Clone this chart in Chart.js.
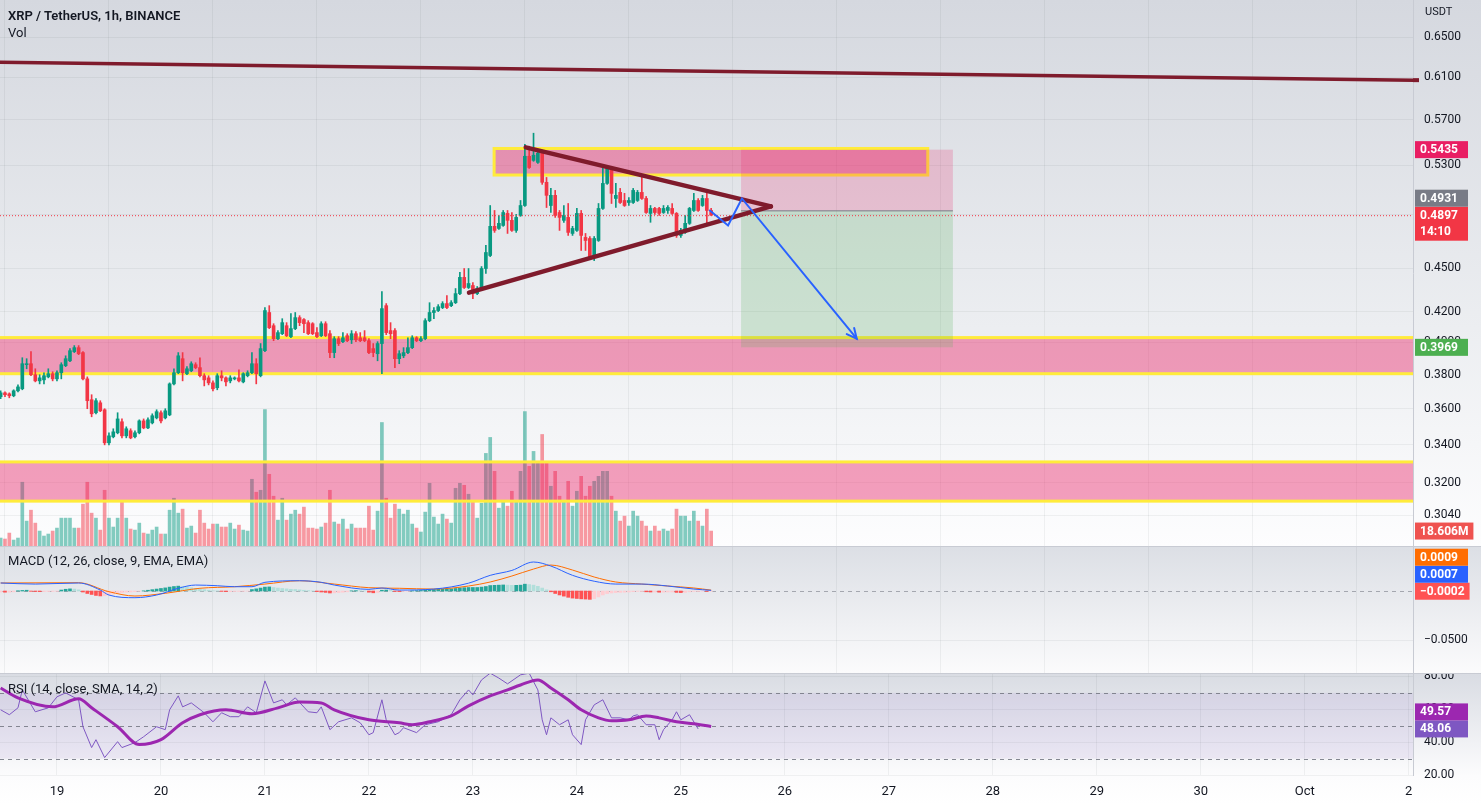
<!doctype html>
<html lang="en">
<head>
<meta charset="utf-8">
<title>XRP / TetherUS, 1h, BINANCE</title>
<script src="https://cdn.jsdelivr.net/npm/chart.js"></script>
<style>
    body { margin: 0; width: 1481px; height: 805px; overflow: hidden; background: #fff; font-family: Roboto, sans-serif; }
    .pane { position: absolute; left: 0; width: 1481px; }
    #pricePane { top: 0; height: 546px; background: linear-gradient(#d5d8df, #eceef1 60%, #fdfdfe); }
    #macdPane { top: 547px; height: 126px; background: linear-gradient(#dcdfe5, #fbfbfc); }
    #rsiPane { top: 674px; height: 131px; background: linear-gradient(#d9dce3, #fcfcfd 78%, #ffffff); }
    .sep { position: absolute; left: 0; width: 1481px; height: 1px; background: #c8cbd3; }
    .legend { position: absolute; left: 8px; font-size: 13px; color: #131722; white-space: nowrap; }
    canvas { position: absolute; left: 0; top: 0; }
</style>
</head>
<body>
<div id="pricePane" class="pane"><canvas id="priceChart" width="1481" height="546"></canvas></div>
<div class="sep" style="top:546px"></div>
<div id="macdPane" class="pane"><canvas id="macdChart" width="1481" height="126"></canvas></div>
<div class="sep" style="top:673px"></div>
<div id="rsiPane" class="pane"><canvas id="rsiChart" width="1481" height="131"></canvas></div>

<div class="legend" style="top:8px;font-weight:600">XRP / TetherUS, 1h, BINANCE</div>
<div class="legend" style="top:25px">Vol</div>
<div class="legend" style="top:5px;left:1425px;font-size:11px">USDT</div>
<div class="legend" style="top:553px">MACD (12, 26, close, 9, EMA, EMA)</div>
<div class="legend" style="top:681px">RSI (14, close, SMA, 14, 2)</div>

<script>
    // ---- data (1h candles, first candle 18 Sep 11:00) ----
    const firstHour = 11;
    const opens = [
        .3669,.3692,.3686,.3675,.3704,.3716,.3861,.3867,.3800,.3763,.3769,.3787,.3806,.3775,.3812,.3855,.3885,.3942,.3967,.3936,
        .3775,.3652,.3577,.3634,.3594,.3410,.3443,.3465,.3526,.3448,.3476,.3443,.3465,.3531,.3492,.3520,.3548,.3577,.3548,.3565,
        .3745,.3812,.3898,.3806,.3824,.3861,.3843,.3794,.3781,.3751,.3722,.3794,.3781,.3763,.3775,.3781,.3757,.3794,.3812,.3867,
        .3794,.3948,.4195,.4108,.4024,.4056,.4108,.4037,.4089,.4161,.4148,.4128,.4121,.4063,.4043,.4121,.4056,.3936,.4024,.4005,
        .4043,.4017,.4056,.4030,.4030,.4011,.3961,.3929,.3993,.4241,.4076,.4076,.3898,.3916,.3936,.3967,.4030,.4011,.4024,.4141,
        .4195,.4208,.4228,.4255,.4241,.4261,.4323,.4436,.4365,.4379,.4323,.4358,.4499,.4593,.4811,.4795,.4818,.4911,.4857,.4780,
        .4895,.4973,.5378,.5343,.5326,.5404,.5160,.4973,.5054,.4918,.4857,.4880,.4757,.4780,.4911,.4727,.4719,.4578,.4704,.4950,
        .5151,.5275,.5029,.5078,.5013,.4997,.4997,.5013,.5078,.5029,.4911,.4950,.4950,.4918,.4934,.4950,.4911,.4742,.4765,.4834,
        .4934,.5013,.4973,.5029,.4934
    ];
    const highs = [
        .3704,.3698,.3692,.3710,.3739,.3904,.3898,.3942,.3836,.3800,.3812,.3836,.3818,.3824,.3873,.3916,.3961,.3980,.3980,.3942,
        .3787,.3681,.3658,.3646,.3600,.3465,.3487,.3577,.3542,.3498,.3487,.3476,.3537,.3542,.3548,.3571,.3594,.3588,.3600,.3751,
        .3836,.3936,.3936,.3849,.3879,.3873,.3904,.3806,.3794,.3763,.3806,.3824,.3787,.3794,.3787,.3830,.3812,.3824,.3936,.3898,
        .3993,.4228,.4241,.4121,.4076,.4154,.4128,.4188,.4195,.4174,.4154,.4141,.4128,.4095,.4134,.4134,.4076,.4037,.4037,.4063,
        .4056,.4076,.4069,.4063,.4076,.4024,.3993,.4005,.4337,.4255,.4128,.4089,.3948,.3967,.4030,.4043,.4037,.4037,.4154,.4261,
        .4228,.4248,.4268,.4309,.4275,.4358,.4471,.4499,.4499,.4400,.4372,.4513,.4667,.4973,.4934,.4895,.4934,.4934,.4918,.4903,
        .5013,.5482,.5465,.5579,.5430,.5430,.5200,.5110,.5094,.4934,.4973,.4989,.4811,.4950,.4934,.4757,.4734,.4734,.4989,.5300,
        .5300,.5283,.5151,.5110,.5070,.5037,.5110,.5094,.5200,.5045,.4973,.4958,.4958,.4973,.4973,.4989,.4918,.4795,.4895,.4958,
        .5070,.5029,.5054,.5070,.4950
    ];
    const lows = [
        .3658,.3669,.3663,.3669,.3698,.3710,.3836,.3794,.3757,.3745,.3745,.3781,.3763,.3763,.3775,.3849,.3879,.3936,.3923,.3769,
        .3600,.3554,.3571,.3583,.3399,.3399,.3437,.3459,.3437,.3437,.3432,.3437,.3459,.3487,.3487,.3514,.3542,.3520,.3542,.3560,
        .3739,.3806,.3763,.3800,.3818,.3836,.3787,.3733,.3739,.3704,.3710,.3763,.3733,.3751,.3769,.3757,.3751,.3787,.3806,.3745,
        .3787,.3942,.4089,.4011,.4017,.4050,.4037,.4030,.4082,.4108,.4063,.4050,.4050,.4030,.4037,.4037,.3904,.3904,.3980,.3999,
        .4005,.3993,.4005,.4005,.4005,.3929,.3910,.3885,.3806,.4050,.4024,.3843,.3867,.3904,.3929,.3961,.4005,.4005,.4017,.4134,
        .4154,.4201,.4221,.4221,.4234,.4255,.4316,.4358,.4358,.4289,.4316,.4351,.4464,.4585,.4765,.4788,.4811,.4757,.4772,.4765,
        .4888,.4966,.5275,.5335,.5318,.5143,.4957,.4918,.4880,.4780,.4842,.4742,.4742,.4772,.4630,.4630,.4563,.4556,.4697,.4942,
        .5143,.4989,.4957,.4989,.4966,.4973,.4989,.5005,.5021,.4911,.4842,.4903,.4895,.4911,.4911,.4903,.4727,.4727,.4757,.4826,
        .4926,.4926,.4966,.4834,.4895
    ];
    const closes = [
        .3692,.3681,.3675,.3704,.3727,.3867,.3867,.3800,.3763,.3781,.3794,.3806,.3775,.3812,.3861,.3898,.3948,.3967,.3929,.3775,
        .3646,.3571,.3646,.3588,.3410,.3448,.3470,.3542,.3448,.3487,.3437,.3465,.3531,.3492,.3537,.3560,.3583,.3531,.3588,.3745,
        .3812,.3916,.3812,.3836,.3867,.3843,.3794,.3769,.3751,.3716,.3794,.3781,.3757,.3781,.3781,.3763,.3806,.3812,.3867,.3806,
        .3961,.4208,.4095,.4024,.4063,.4128,.4043,.4089,.4161,.4128,.4121,.4056,.4056,.4037,.4121,.4043,.3936,.4024,.3993,.4030,
        .4011,.4056,.4017,.4011,.4011,.3936,.3936,.3993,.4221,.4063,.4056,.3898,.3929,.3936,.3967,.4030,.4011,.4024,.4141,.4195,
        .4208,.4234,.4255,.4228,.4261,.4323,.4436,.4365,.4393,.4323,.4358,.4499,.4615,.4811,.4780,.4834,.4918,.4857,.4780,.4880,
        .4973,.5378,.5283,.5387,.5404,.5160,.5054,.5054,.4895,.4880,.4895,.4765,.4795,.4911,.4742,.4704,.4571,.4719,.4950,.5151,
        .5275,.5070,.5054,.4997,.4973,.5013,.5094,.5078,.5029,.4918,.4950,.4918,.4911,.4950,.4958,.4911,.4742,.4780,.4834,.4950,
        .5013,.4934,.5029,.4934,.4897
    ];
    // volume, millions
    const volumes = [
        9.9,8.7,16.1,7.4,9.9,79.4,31,44.6,28.5,18.6,12.4,14.9,18.6,22.3,34.7,34.7,34.7,22.3,22.3,52.1,
        79.4,40.9,34.7,19.8,69.4,34.7,23.6,34.7,54.6,34.7,21.1,19.8,28.5,16.1,14.9,19.8,23.6,14.9,14.9,44.6,
        59.5,40.9,45.9,22.3,24.8,16.1,44.6,28.5,21.1,27.3,27.3,23.6,23.6,28.5,21.1,26,19.8,18.6,83.1,67,
        69.4,169.9,89.3,62,32.2,59.5,32.2,39.7,44.6,39.7,48.4,22.3,22.3,21.1,23.6,28.5,69.4,29.8,27.3,33.5,
        21.1,27.3,22.3,22.3,22.3,49.6,19.8,43.4,153.8,59.5,34.7,52.1,45.9,39.7,44.6,27.3,22.3,17.4,42.2,78.1,
        36,27.3,39.7,33.5,28.5,71.9,78.1,75.6,64.5,55.8,34.7,53.3,115.3,135.2,93,47.1,55.8,49.6,68.2,55.8,
        93,167.4,99.2,117.8,105.4,138.9,105.4,74.4,93,62,55.8,80.6,49.6,68.2,86.8,62,74.4,80.6,86.8,93,
        93,62,43.4,31,37.2,24.8,43.4,37.2,31,24.8,18.6,24.8,18.6,21.1,18.6,21.1,45.9,37.2,37.2,31,
        43.4,31,24.8,45.9,18.606
    ];

    // MACD histogram, one value per candle
    const macdHist = [
        -0.0010,-0.0012,-0.0012,-0.0008, 0.0003,0.0006,0.0008,
        -0.0003,-0.0005,-0.0006,-0.0006,-0.0005,-0.0004,-0.0003,
        0.0010,0.0018,0.0022,0.0020,0.0012,
        -0.0010,-0.0025,-0.0035,-0.0045,-0.0050,-0.0048,-0.0040,
        -0.0030,-0.0022,-0.0018,-0.0012,-0.0010,-0.0006,-0.0002,0.0002,
        0.0008,0.0014,0.0020,0.0026,0.0032,0.0040,0.0046,0.0050,
        0.0044,0.0040,0.0034,0.0028,0.0020,0.0014,0.0008,0.0003,0.0002,
        -0.0004,-0.0006,-0.0006,-0.0005,-0.0004,-0.0003,-0.0001,
        0.0015,0.0022,0.0030,0.0040,0.0042,
        0.0036,0.0030,0.0026,0.0022,0.0018,0.0016,0.0012,0.0008,0.0004,0.0001,
        -0.0006,-0.0010,-0.0014,-0.0020,-0.0018,-0.0016,-0.0012,-0.0008,
        0.0002,0.0004,0.0003,0.0001,
        -0.0012,-0.0018,-0.0015,
        0.0008,0.0010,0.0006,-0.0004,-0.0006,
        -0.0004,-0.0002,0.0002,0.0004,0.0006,0.0010,0.0014,0.0016,0.0018,0.0020,0.0020,0.0022,0.0026,0.0032,
        0.0034,0.0036,0.0036,0.0036,0.0040,0.0046,0.0056,0.0058,0.0060,0.0062,0.0060,0.0058,0.0058,0.0060,0.0070,0.0066,
        0.0060,0.0048,0.0030,0.0012,
        -0.0008,-0.0025,-0.0040,-0.0052,-0.0064,-0.0072,-0.0076,-0.0080,-0.0082,-0.0085,-0.0078,-0.0060,-0.0040,-0.0026,
        -0.0020,-0.0016,-0.0014,-0.0012,-0.0010,-0.0006,-0.0004,-0.0004,-0.0008,-0.0010,
        -0.0010,-0.0012,-0.0012,-0.0010,-0.0010,-0.0014,-0.0016,-0.0014,-0.0008,-0.0004,-0.0004,-0.0002,-0.0004,-0.0002
    ];
    // MACD / signal lines, read at sample hours
    const macdHours = [11,19,29,34,36,42,47,52,56,61,65,69,72,80,85,88,96,99,103,111,119,124,129,134,138,143,148,153,159,165,171,175];
    const macdLine = [0.0082,0.0071,0.0082,0.0010,-0.0041,-0.0068,-0.0041,0.0028,0.0061,0.0054,0.0044,0.0044,0.0089,0.0105,0.0089,0.0061,
                      0.0017,0.0031,0.0010,0.0020,0.0080,0.0160,0.0210,0.0296,0.0255,0.0160,0.0100,0.0071,0.0071,0.0051,0.0020,0.0007];
    const signalHours = [11,29,36,42,49,57,65,72,80,88,96,103,111,119,124,129,134,138,143,148,153,159,165,171,175];
    const signalLine = [0.0082,0.0085,-0.0007,-0.0051,-0.0023,0.0028,0.0044,0.0071,0.0105,0.0071,0.0034,0.0028,0.0020,0.0051,0.0092,
                        0.0153,0.0224,0.0265,0.0214,0.0143,0.0092,0.0071,0.0051,0.0031,0.0009];

    // RSI and its moving average, read at sample hours
    const rsiHours = [11,13,15,16,19,22,24,26,29,30,32,33,35,38,39,42,44,47,49,50,52,53,55,58,60,62,64,66,68,70,72,74,76,77,79,82,84,85,87,89,92,94,96,97,99,100,102,103,
                      104,107,109,112,115,117,119,120,122,124,126,128,131,133,135,136,137,138,140,142,143,145,146,148,150,152,154,156,157,158,160,162,163,164,166,167,168,170,172,174,175];
    const rsiValues = [59.7,56.7,60.9,71.8,58.5,60.9,67.6,70,65.8,49.4,36.7,41.5,30.6,40.3,36.7,39.7,43.3,49.4,47.6,59.7,68.2,61.5,63.9,57.9,52.4,57.9,55.5,55.5,61.5,57.9,77.3,63.9,65.8,62.7,67,58.5,57.9,61.5,47.6,52.4,54.8,51.8,44.5,45.8,65.8,53.6,44.5,45.8,
                       48.8,45.8,50.6,52.4,56.7,65.8,71.8,68.8,77.9,82,79,75.5,81,82,71.8,53.6,44.5,54.8,50.6,53.6,44.5,38.5,53.6,62.7,65.8,54.8,54.8,53.6,56,56.7,50.6,50.6,41.5,47.6,53.6,58.5,53.6,56.7,48.06];
    const rsiMaHours = [11,15,23,29,32,38,43,48,53,57,63,69,75,80,85,88,96,103,106,110,115,119,124,128,131,135,138,142,145,149,152,156,160,163,167,171,175];
    const rsiMa = [73,67,61.5,66.4,60.9,49.4,38.5,41.5,51.8,56.7,59.7,57.3,60.9,64.5,63.9,59.7,53.6,51.8,50.6,52.4,56,62.1,68.2,71.8,74.8,77.9,73,65.8,59.7,54.8,53,53.6,56,54.8,52.4,51.2,49.57];

    // axis ticks
    const dayTicks = [24,48,72,96,120,144,168,192,216,240,264,288,312,336];
    const dayLabels = ['19','20','21','22','23','24','25','26','27','28','29','30','Oct','2'];
    const priceTicks = [0.304,0.32,0.34,0.36,0.38,0.40,0.42,0.45,0.49,0.53,0.57,0.61,0.65];
    const macdTicks = [-0.05];
    const rsiTicks = [20,40,60,80];

    // drawings (hour, price)
    const zones = [
        { from: 124.9, to: 225, lo: 0.5220, hi: 0.5445 },
        { from: 0, to: 400, lo: 0.3806, hi: 0.4031 },
        { from: 0, to: 400, lo: 0.3108, hi: 0.3308 }
    ];
    const resistanceLine = [[10.85, 0.6246], [337, 0.6070]];
    const upperTrend = [[132.2, 0.5455], [188.8, 0.4966]];
    const lowerTrend = [[119.1, 0.4330], [188.8, 0.4966]];
    const arrowPath = [[174.7, 0.4934], [178.9, 0.4818], [182.1, 0.5029], [208.6, 0.4024]];
    const shortFrom = 181.9, shortTo = 230.8;
    const entryPrice = 0.4931, stopPrice = 0.5435, targetPrice = 0.3969;
    const lastPrice = 0.4897;

    // ---- helpers ----
    const xMin = 10.85, xMax = 337;
    const hours = closes.map((c, i) => firstHour + i);
    const upColor = '#089981', downColor = '#f23645';
    const isUp = closes.map((c, i) => c >= opens[i]);
    const gridColor = 'rgba(42,46,57,0.06)';
    Chart.defaults.font.family = 'Roboto';

    function xAxis(showLabels) {
        return {
            type: 'linear', min: xMin, max: xMax, offset: false,
            afterBuildTicks: s => { s.ticks = dayTicks.map(v => ({ value: v })); },
            afterFit: s => { s.height = showLabels ? 30 : 0; s.paddingLeft = 0; s.paddingRight = 0; },
            grid: { color: gridColor, drawTicks: false },
            border: { display: false },
            ticks: {
                display: showLabels, autoSkip: false, maxRotation: 0, padding: 9,
                color: '#131722', font: { size: 13 },
                callback: v => dayLabels[dayTicks.indexOf(v)]
            }
        };
    }

    function yAxis(extra) {
        return Object.assign({
            position: 'right',
            afterFit: s => { s.width = 68; s.paddingTop = 0; s.paddingBottom = 0; },
            grid: { color: gridColor, drawTicks: false },
            border: { color: '#c8cbd3' },
            ticks: { color: '#131722', font: { size: 12 }, padding: 11, autoSkip: false }
        }, extra);
    }

    // axis tags, stacked upward when they overlap
    function drawTags(chart, scale, tags) {
        const ctx = chart.ctx;
        const x0 = chart.chartArea.right + 2;
        const items = tags.map(t => Object.assign({ y: scale.getPixelForValue(t.value) }, t)).sort((a, b) => b.y - a.y);
        let prevTop = Infinity;
        ctx.save();
        ctx.font = 'bold 12px Roboto';
        ctx.textBaseline = 'middle';
        ctx.textAlign = 'left';
        items.forEach(t => {
            const h = 17 * t.lines.length;
            let top = t.y - 8.5;
            if (top + h > prevTop) top = prevTop - h;
            const w = Math.max(53, ctx.measureText(t.lines[0]).width + 10);
            ctx.fillStyle = t.bg;
            ctx.fillRect(x0, top, w, h);
            ctx.fillStyle = '#ffffff';
            t.lines.forEach((s, k) => ctx.fillText(s, x0 + 5, top + 9 + 16 * k));
            prevTop = top;
        });
        ctx.restore();
    }

    // ---- price pane ----
    const pricePlugin = {
        id: 'priceDecor',
        beforeDatasetDraw(chart, args) {
            if (args.index !== 1) return;
            const { ctx, chartArea: a, scales: { x, y } } = chart;
            ctx.save();
            ctx.beginPath(); ctx.rect(a.left, a.top, a.width, a.height); ctx.clip();
            zones.forEach(z => {
                const l = x.getPixelForValue(z.from), r = x.getPixelForValue(z.to);
                const t = y.getPixelForValue(z.hi), b = y.getPixelForValue(z.lo);
                ctx.fillStyle = 'rgba(233,30,99,0.42)';
                ctx.fillRect(l, t, r - l, b - t);
                ctx.strokeStyle = '#ffeb3b';
                ctx.lineWidth = 3;
                ctx.strokeRect(l, t, r - l, b - t);
            });
            // short position box
            const l = x.getPixelForValue(shortFrom), r = x.getPixelForValue(shortTo);
            const ye = y.getPixelForValue(entryPrice), ys = y.getPixelForValue(stopPrice), yt = y.getPixelForValue(targetPrice);
            ctx.fillStyle = 'rgba(233,30,99,0.2)';
            ctx.fillRect(l, ys, r - l, ye - ys);
            ctx.fillStyle = 'rgba(76,175,80,0.2)';
            ctx.fillRect(l, ye, r - l, yt - ye);
            ctx.strokeStyle = '#787b86';
            ctx.lineWidth = 1;
            ctx.beginPath(); ctx.moveTo(l, ye); ctx.lineTo(r, ye); ctx.stroke();
            ctx.restore();
        },
        afterDatasetsDraw(chart) {
            const { ctx, chartArea: a, scales: { x, y } } = chart;
            const P = p => [x.getPixelForValue(p[0]), y.getPixelForValue(p[1])];
            ctx.save();
            ctx.beginPath(); ctx.rect(a.left, a.top, a.width, a.height); ctx.clip();
            // last price dotted line
            const yl = y.getPixelForValue(lastPrice);
            ctx.strokeStyle = '#f23645'; ctx.lineWidth = 1; ctx.setLineDash([1, 2]);
            ctx.beginPath(); ctx.moveTo(a.left, yl + 0.5); ctx.lineTo(a.right, yl + 0.5); ctx.stroke();
            ctx.setLineDash([]);
            // trend lines
            ctx.strokeStyle = '#7f1b2c'; ctx.lineCap = 'round';
            [[resistanceLine, 3.5], [upperTrend, 4.5], [lowerTrend, 4.5]].forEach(([ln, w]) => {
                const p0 = P(ln[0]), p1 = P(ln[1]);
                ctx.lineWidth = w;
                ctx.beginPath(); ctx.moveTo(p0[0], p0[1]); ctx.lineTo(p1[0], p1[1]); ctx.stroke();
            });
            // projected path arrow
            const pts = arrowPath.map(P);
            ctx.strokeStyle = '#2962ff'; ctx.lineWidth = 2; ctx.lineJoin = 'miter';
            ctx.beginPath();
            pts.forEach((p, i) => i ? ctx.lineTo(p[0], p[1]) : ctx.moveTo(p[0], p[1]));
            ctx.stroke();
            const e = pts[pts.length - 1], s = pts[pts.length - 2];
            const ang = Math.atan2(e[1] - s[1], e[0] - s[0]);
            ctx.beginPath();
            ctx.moveTo(e[0] - 11 * Math.cos(ang - 0.45), e[1] - 11 * Math.sin(ang - 0.45));
            ctx.lineTo(e[0], e[1]);
            ctx.lineTo(e[0] - 11 * Math.cos(ang + 0.45), e[1] - 11 * Math.sin(ang + 0.45));
            ctx.stroke();
            ctx.restore();
        },
        afterDraw(chart) {
            const { ctx, chartArea: a, scales: { y, yVol } } = chart;
            // price-line stub into the axis
            const yr = y.getPixelForValue(resistanceLine[1][1]);
            ctx.save();
            ctx.fillStyle = '#7f1b2c';
            ctx.fillRect(a.right, yr - 2, 6, 4);
            ctx.restore();
            drawTags(chart, y, [
                { value: stopPrice, lines: [stopPrice.toFixed(4)], bg: '#e91e63' },
                { value: entryPrice, lines: [entryPrice.toFixed(4)], bg: '#787b86' },
                { value: lastPrice, lines: [lastPrice.toFixed(4), '14:10'], bg: '#f23645' },
                { value: targetPrice, lines: [targetPrice.toFixed(4)], bg: '#4caf50' }
            ]);
            const lastVol = volumes[volumes.length - 1];
            drawTags(chart, yVol, [{ value: lastVol, lines: [lastVol.toFixed(3) + 'M'], bg: '#ef5350' }]);
        }
    };

    new Chart(document.getElementById('priceChart'), {
        type: 'bar',
        data: {
            datasets: [
                {
                    label: 'Vol', yAxisID: 'yVol', order: 3, grouped: false, barThickness: 3,
                    data: hours.map((h, i) => ({ x: h, y: volumes[i] })),
                    backgroundColor: isUp.map(u => u ? 'rgba(8,153,129,0.5)' : 'rgba(242,54,69,0.5)')
                },
                {
                    label: 'wick', yAxisID: 'y', order: 2, grouped: false, barThickness: 1,
                    data: hours.map((h, i) => ({ x: h, y: [lows[i], highs[i]] })),
                    backgroundColor: isUp.map(u => u ? upColor : downColor)
                },
                {
                    label: 'body', yAxisID: 'y', order: 1, grouped: false, barThickness: 3, minBarLength: 1,
                    data: hours.map((h, i) => ({ x: h, y: [opens[i], closes[i]] })),
                    backgroundColor: isUp.map(u => u ? upColor : downColor)
                }
            ]
        },
        options: {
            responsive: false, animation: false,
            layout: { padding: 0 },
            plugins: { legend: { display: false }, tooltip: { enabled: false } },
            scales: {
                x: xAxis(false),
                y: yAxis({
                    type: 'logarithmic', min: 0.2894, max: 0.6895,
                    afterBuildTicks: s => { s.ticks = priceTicks.map(v => ({ value: v })); },
                    ticks: { color: '#131722', font: { size: 12 }, padding: 11, autoSkip: false, callback: v => Number(v).toFixed(4) }
                }),
                yVol: { type: 'linear', display: false, min: 0, max: 680 }
            }
        },
        plugins: [pricePlugin]
    });

    // ---- MACD pane ----
    const histColors = macdHist.map((v, i) => {
        const prev = i ? macdHist[i - 1] : v;
        if (v >= 0) return v >= prev ? '#26a69a' : '#b2dfdb';
        return v < prev ? '#ff5252' : '#ffcdd2';
    });
    const macdPlugin = {
        id: 'macdDecor',
        beforeDatasetsDraw(chart) {
            const { ctx, chartArea: a, scales: { y } } = chart;
            const y0 = Math.round(y.getPixelForValue(0)) + 0.5;
            ctx.save();
            ctx.strokeStyle = 'rgba(120,123,134,0.6)'; ctx.setLineDash([4, 4]); ctx.lineWidth = 1;
            ctx.beginPath(); ctx.moveTo(a.left, y0); ctx.lineTo(a.right, y0); ctx.stroke();
            ctx.restore();
        },
        afterDraw(chart) {
            drawTags(chart, chart.scales.y, [
                { value: signalLine[signalLine.length - 1], lines: ['0.0009'], bg: '#ff6d00' },
                { value: macdLine[macdLine.length - 1], lines: ['0.0007'], bg: '#2962ff' },
                { value: macdHist[macdHist.length - 1], lines: ['\u22120.0002'], bg: '#ff5252' }
            ]);
        }
    };
    new Chart(document.getElementById('macdChart'), {
        type: 'bar',
        data: {
            datasets: [
                {
                    type: 'bar', label: 'Histogram', order: 3, grouped: false, barThickness: 3,
                    data: hours.map((h, i) => ({ x: h, y: macdHist[i] })),
                    backgroundColor: histColors
                },
                {
                    type: 'line', label: 'MACD', order: 1,
                    data: macdHours.map((h, i) => ({ x: h, y: macdLine[i] })),
                    borderColor: '#2962ff', borderWidth: 1, pointRadius: 0, tension: 0.4, cubicInterpolationMode: 'monotone'
                },
                {
                    type: 'line', label: 'Signal', order: 2,
                    data: signalHours.map((h, i) => ({ x: h, y: signalLine[i] })),
                    borderColor: '#ff6d00', borderWidth: 1, pointRadius: 0, tension: 0.4, cubicInterpolationMode: 'monotone'
                }
            ]
        },
        options: {
            responsive: false, animation: false,
            layout: { padding: 0 },
            plugins: { legend: { display: false }, tooltip: { enabled: false } },
            scales: {
                x: xAxis(false),
                y: yAxis({
                    type: 'linear', min: -0.0836, max: 0.0449,
                    afterBuildTicks: s => { s.ticks = macdTicks.map(v => ({ value: v })); },
                    ticks: { color: '#131722', font: { size: 12 }, padding: 11, autoSkip: false, callback: v => '\u2212' + Math.abs(v).toFixed(4) }
                })
            }
        },
        plugins: [macdPlugin]
    });

    // ---- RSI pane ----
    const rsiPlugin = {
        id: 'rsiDecor',
        beforeDatasetsDraw(chart) {
            const { ctx, chartArea: a, scales: { y } } = chart;
            const y70 = y.getPixelForValue(70), y30 = y.getPixelForValue(30);
            ctx.save();
            ctx.fillStyle = 'rgba(126,87,194,0.1)';
            ctx.fillRect(a.left, y70, a.width, y30 - y70);
            ctx.strokeStyle = 'rgba(120,123,134,0.9)'; ctx.setLineDash([4, 4]); ctx.lineWidth = 1;
            [70, 50, 30].forEach(v => {
                const yy = Math.round(y.getPixelForValue(v)) + 0.5;
                ctx.beginPath(); ctx.moveTo(a.left, yy); ctx.lineTo(a.right, yy); ctx.stroke();
            });
            ctx.restore();
        },
        afterDraw(chart) {
            drawTags(chart, chart.scales.y, [
                { value: rsiMa[rsiMa.length - 1], lines: ['49.57'], bg: '#9c27b0' },
                { value: rsiValues[rsiValues.length - 1], lines: ['48.06'], bg: '#7e57c2' }
            ]);
        }
    };
    new Chart(document.getElementById('rsiChart'), {
        type: 'line',
        data: {
            datasets: [
                {
                    label: 'RSI', order: 2,
                    data: rsiHours.map((h, i) => ({ x: h, y: rsiValues[i] })),
                    borderColor: '#7e57c2', borderWidth: 1, pointRadius: 0, tension: 0
                },
                {
                    label: 'RSI-based MA', order: 1,
                    data: rsiMaHours.map((h, i) => ({ x: h, y: rsiMa[i] })),
                    borderColor: '#9c27b0', borderWidth: 3, pointRadius: 0, tension: 0.4, cubicInterpolationMode: 'monotone'
                }
            ]
        },
        options: {
            responsive: false, animation: false,
            layout: { padding: 0 },
            plugins: { legend: { display: false }, tooltip: { enabled: false } },
            scales: {
                x: xAxis(true),
                y: yAxis({
                    type: 'linear', min: 20, max: 81.5,
                    afterBuildTicks: s => { s.ticks = rsiTicks.map(v => ({ value: v })); },
                    ticks: { color: '#131722', font: { size: 12 }, padding: 11, autoSkip: false, callback: v => Number(v).toFixed(2) }
                })
            }
        },
        plugins: [rsiPlugin]
    });
</script>
</body>
</html>
